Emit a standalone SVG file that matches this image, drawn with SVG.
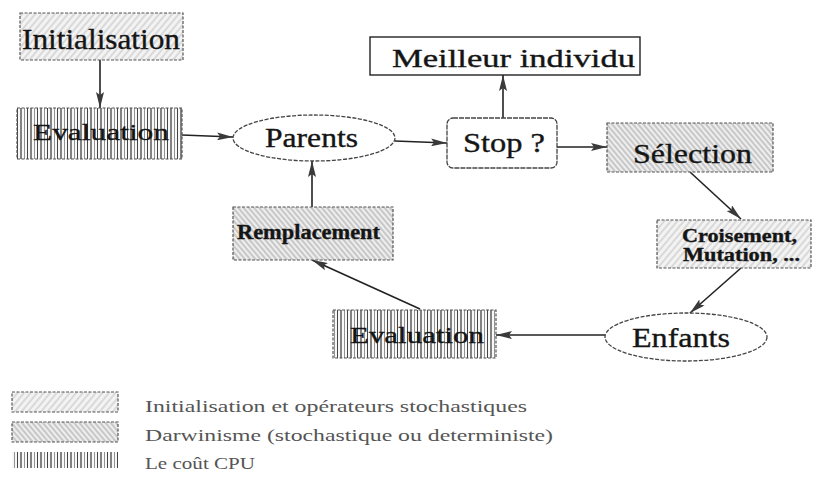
<svg xmlns="http://www.w3.org/2000/svg" width="813" height="480" viewBox="0 0 813 480">
  <style>
    .lbl { font-family: "Liberation Serif", "Times New Roman", serif; fill: #151515; stroke: #151515; stroke-width: 0.35; }
    .leg { font-family: "Liberation Serif", "Times New Roman", serif; fill: #555; font-size: 17px; }
    .box { stroke: #555; stroke-width: 1.2; stroke-dasharray: 3 1.5; }
    .oval { fill: #fff; stroke: #444; stroke-width: 1.3; stroke-dasharray: 4 1.5; }
    .edge { fill: none; stroke: #222; stroke-width: 1.6; marker-end: url(#head); }
  </style>
  <defs>
    <marker id="head" viewBox="0 0 16 8" refX="16" refY="4" markerWidth="16" markerHeight="8" markerUnits="userSpaceOnUse" orient="auto">
      <path d="M0,0 L16,4 L0,8 L3,4 z" fill="#3a3a3a"/>
    </marker>
    <!-- stochastic operators: sparse light "/" hatching -->
    <pattern id="stoch" patternUnits="userSpaceOnUse" width="5" height="5" patternTransform="rotate(40)">
      <rect width="5" height="5" fill="#f3f3f3"/>
      <line x1="1" y1="0" x2="1" y2="5" stroke="#c0c0c0" stroke-width="1"/>
    </pattern>
    <!-- darwinism: denser "\" hatching -->
    <pattern id="darwin" patternUnits="userSpaceOnUse" width="4" height="4" patternTransform="rotate(-40)">
      <rect width="4" height="4" fill="#eeeeee"/>
      <line x1="1" y1="0" x2="1" y2="4" stroke="#a8a8a8" stroke-width="1.1"/>
    </pattern>
    <!-- CPU cost: irregular vertical bars -->
    <pattern id="cpu" patternUnits="userSpaceOnUse" width="10" height="10">
      <rect width="10" height="10" fill="#f8f8f8"/>
      <line x1="1" y1="0" x2="1" y2="10" stroke="#333" stroke-width="1.2"/>
      <line x1="4.5" y1="0" x2="4.5" y2="10" stroke="#777" stroke-width="0.8"/>
      <line x1="7.5" y1="0" x2="7.5" y2="10" stroke="#444" stroke-width="1"/>
    </pattern>
  </defs>

  <!-- connectors -->
  <g id="connectors">
    <line class="edge" x1="100" y1="60" x2="100" y2="108"/>
    <line class="edge" x1="182" y1="135" x2="233" y2="137"/>
    <line class="edge" x1="395" y1="141" x2="447" y2="143"/>
    <line class="edge" x1="503" y1="118" x2="503" y2="75"/>
    <line class="edge" x1="557" y1="147" x2="607" y2="147"/>
    <line class="edge" x1="690" y1="172" x2="741" y2="219"/>
    <line class="edge" x1="741" y1="268" x2="690" y2="313"/>
    <line class="edge" x1="605" y1="335" x2="496" y2="335"/>
    <line class="edge" x1="420" y1="309" x2="312" y2="260"/>
    <line class="edge" x1="312" y1="207" x2="312" y2="161"/>
  </g>

  <g id="initialisation">
    <rect class="box" x="20" y="13" width="163" height="47" fill="url(#stoch)"/>
    <text class="lbl" x="22" y="49" font-size="29" textLength="158" lengthAdjust="spacingAndGlyphs">Initialisation</text>
  </g>

  <g id="evaluation-init">
    <rect class="box" x="17" y="108" width="165" height="51" fill="url(#cpu)"/>
    <text class="lbl" x="33" y="140" font-size="24" textLength="136" lengthAdjust="spacingAndGlyphs">Evaluation</text>
  </g>

  <g id="parents">
    <ellipse class="oval" cx="314" cy="138" rx="81" ry="23"/>
    <text class="lbl" x="265" y="147" font-size="27" textLength="93" lengthAdjust="spacingAndGlyphs">Parents</text>
  </g>

  <g id="stop">
    <rect x="447" y="118" width="110" height="50" rx="6" fill="#fff" stroke="#444" stroke-width="1.3" stroke-dasharray="5 1"/>
    <text class="lbl" x="463" y="152" font-size="27" textLength="82" lengthAdjust="spacingAndGlyphs">Stop ?</text>
  </g>

  <g id="meilleur">
    <rect x="370" y="37" width="270" height="38" fill="#fff" stroke="#222" stroke-width="1.4"/>
    <text class="lbl" x="392" y="67" font-size="25" textLength="243" lengthAdjust="spacingAndGlyphs">Meilleur individu</text>
  </g>

  <g id="selection">
    <rect class="box" x="607" y="123" width="166" height="49" fill="url(#darwin)"/>
    <text class="lbl" x="633" y="163" font-size="27" textLength="119" lengthAdjust="spacingAndGlyphs">Sélection</text>
  </g>

  <g id="croisement">
    <rect class="box" x="657" y="220" width="154" height="48" fill="url(#stoch)"/>
    <text class="lbl" x="682" y="242" font-size="18" font-weight="bold" textLength="115" lengthAdjust="spacingAndGlyphs">Croisement,</text>
    <text class="lbl" x="683" y="261" font-size="18" font-weight="bold" textLength="117" lengthAdjust="spacingAndGlyphs">Mutation, ...</text>
  </g>

  <g id="enfants">
    <ellipse class="oval" cx="686" cy="337" rx="81" ry="24"/>
    <text class="lbl" x="632" y="347" font-size="27" textLength="98" lengthAdjust="spacingAndGlyphs">Enfants</text>
  </g>

  <g id="evaluation-enfants">
    <rect class="box" x="333" y="310" width="163" height="48" fill="url(#cpu)"/>
    <text class="lbl" x="350" y="343" font-size="24" textLength="134" lengthAdjust="spacingAndGlyphs">Evaluation</text>
  </g>

  <g id="remplacement">
    <rect class="box" x="233" y="207" width="160" height="53" fill="url(#darwin)"/>
    <text class="lbl" x="237" y="239" font-size="20" font-weight="bold" textLength="143" lengthAdjust="spacingAndGlyphs">Remplacement</text>
  </g>

  <!-- legend -->
  <g id="legend">
    <rect class="box" x="12" y="392" width="106" height="20" fill="url(#stoch)"/>
    <text class="leg" x="145" y="412" textLength="382" lengthAdjust="spacingAndGlyphs">Initialisation et opérateurs stochastiques</text>
    <rect class="box" x="12" y="422" width="106" height="20" fill="url(#darwin)"/>
    <text class="leg" x="145" y="441" textLength="408" lengthAdjust="spacingAndGlyphs">Darwinisme (stochastique ou deterministe)</text>
    <rect x="12" y="452" width="106" height="16" fill="url(#cpu)"/>
    <text class="leg" x="145" y="469" textLength="110" lengthAdjust="spacingAndGlyphs">Le coût CPU</text>
  </g>
</svg>
